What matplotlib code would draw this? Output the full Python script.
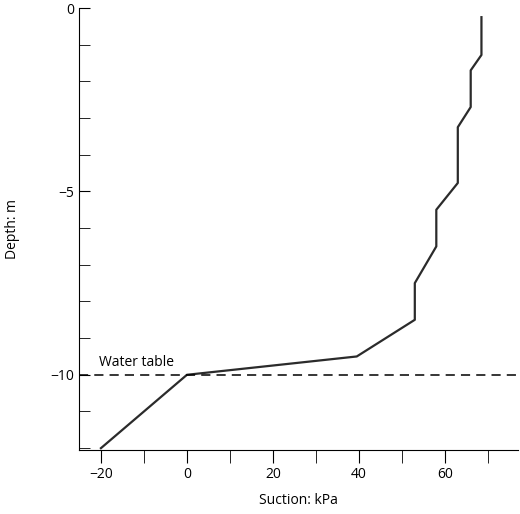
import matplotlib
matplotlib.use("Agg")
import matplotlib.pyplot as plt

suction = [68.5, 68.5, 66.0, 66.0, 63.0, 63.0, 58.0, 58.0, 53.0, 53.0, 39.5, 0.0, -20.0]
depth = [-0.25, -1.28, -1.7, -2.7, -3.25, -4.77, -5.5, -6.5, -7.5, -8.5, -9.5, -10.0, -12.0]
xticks = [-20, 0, 20, 40, 60]
yticks = [0, -5, -10]

plt.rcParams['font.family'] = ['Open Sans', 'DejaVu Sans']
fig = plt.figure(figsize=(5.2, 5.14), dpi=100)
ax = fig.add_axes([79/520, 1-450/514, (518-79)/520, (450-8)/514])
ax.plot(suction, depth, color='#2b2b2b', lw=1.6)
ax.axhline(-10, color='black', lw=1.1, ls=(0, (6, 4)))
ax.text(-20.5, -9.75, 'Water table', fontsize=10)
ax.set_xlim(-25.1, 77)
ax.set_ylim(-12.05, 0)
ax.set_xticks(xticks)
ax.set_xticklabels(['\u221220', '0', '20', '40', '60'])
ax.set_xticks([-10, 10, 30, 50, 70], minor=True)
ax.set_yticks(yticks)
ax.set_yticklabels(['0', '\u22125', '\u221210'])
ax.set_yticks([-1, -2, -3, -4, -6, -7, -8, -9, -11, -12], minor=True)
for s in ['top', 'right']:
    ax.spines[s].set_visible(False)
ax.tick_params(axis='x', which='both', direction='out', length=9, labelsize=10)
ax.tick_params(axis='y', which='both', direction='in', length=8, labelsize=10)
ax.set_xlabel('Suction: kPa', fontsize=10, labelpad=8)
ax.set_ylabel('Depth: m', fontsize=10, labelpad=22)
fig.savefig('out.png', dpi=100)
